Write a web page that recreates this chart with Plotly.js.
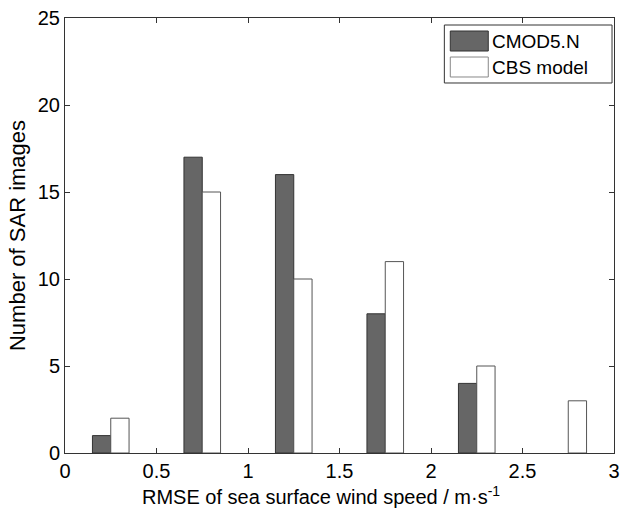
<!DOCTYPE html>
<html>
<head>
<meta charset="utf-8">
<script src="https://cdn.plot.ly/plotly-3.0.1.min.js"></script>
<style>html,body{margin:0;padding:0;background:#fff;}#chart{width:620px;height:512px;}</style>
</head>
<body>
<div id="chart"></div>
<script>
const binCenters = [0.25, 0.75, 1.25, 1.75, 2.25, 2.75];
const cmod5n = [1, 17, 16, 8, 4, 0];
const cbsModel = [2, 15, 10, 11, 5, 3];
const seriesNames = ['CMOD5.N', 'CBS model'];
const xTicks = [0, 0.5, 1, 1.5, 2, 2.5, 3];
const xTickText = ['0', '0.5', '1', '1.5', '2', '2.5', '3'];
const yTicks = [0, 5, 10, 15, 20, 25];
const xTitle = 'RMSE of sea surface wind speed / m·s<sup>-1</sup>';
const yTitle = 'Number of SAR images';

const FAM = 'Liberation Sans, Arial, sans-serif';
const tickFont = {family: FAM, size: 20, color: '#000'};
const titleFont = {family: FAM, size: 20, color: '#000'};
const legFont = {family: FAM, size: 19, color: '#000'};

const darkFill = '#666666', darkEdge = '#333333';
const lightFill = '#ffffff', lightEdge = '#555555';

const traces = [
  {type: 'bar', name: seriesNames[0], x: binCenters, y: cmod5n,
   marker: {color: darkFill, line: {color: darkEdge, width: cmod5n.map(v => v > 0 ? 1 : 0)}}},
  {type: 'bar', name: seriesNames[1], x: binCenters, y: cbsModel,
   marker: {color: lightFill, line: {color: lightEdge, width: cbsModel.map(v => v > 0 ? 1 : 0)}}}
];

const axisCommon = {
  showgrid: false, zeroline: false, showline: true, linecolor: '#333', linewidth: 1,
  mirror: 'allticks', ticks: 'inside', ticklen: 5, tickcolor: '#333', tickfont: tickFont,
  ticklabeloverflow: 'allow'
};

// custom legend (MATLAB-style wide swatches)
const shapes = [
  {type: 'rect', xref: 'paper', yref: 'paper', x0: 0.691, x1: 0.9964, y0: 0.8506, y1: 0.9839,
   line: {color: '#333', width: 1}, fillcolor: '#fff'},
  {type: 'rect', xref: 'paper', yref: 'paper', x0: 0.7018, x1: 0.771, y0: 0.9241, y1: 0.9701,
   line: {color: darkEdge, width: 1}, fillcolor: darkFill},
  {type: 'rect', xref: 'paper', yref: 'paper', x0: 0.7018, x1: 0.771, y0: 0.8644, y1: 0.9103,
   line: {color: '#888', width: 1}, fillcolor: lightFill}
];
const annotations = [
  {xref: 'paper', yref: 'paper', x: 0.774, y: 0.947, xanchor: 'left', yanchor: 'middle',
   text: seriesNames[0], showarrow: false, font: legFont},
  {xref: 'paper', yref: 'paper', x: 0.774, y: 0.887, xanchor: 'left', yanchor: 'middle',
   text: seriesNames[1], showarrow: false, font: legFont},
  {xref: 'paper', yref: 'paper', x: 0.467, y: -0.098, xanchor: 'center', yanchor: 'middle',
   text: xTitle, showarrow: false, font: titleFont}
];

const layout = {
  width: 620, height: 512,
  margin: {l: 65, r: 6, t: 18, b: 59},
  paper_bgcolor: '#fff', plot_bgcolor: '#fff',
  barmode: 'group', bargap: 0.6, bargroupgap: 0,
  showlegend: false,
  xaxis: Object.assign({}, axisCommon, {
    range: [0, 3], tickvals: xTicks, ticktext: xTickText
  }),
  yaxis: Object.assign({}, axisCommon, {
    range: [0, 25], tickvals: yTicks,
    title: {text: yTitle, font: {family: FAM, size: 22, color: '#000'}, standoff: 6}
  }),
  shapes: shapes,
  annotations: annotations
};

Plotly.newPlot('chart', traces, layout, {displayModeBar: false, staticPlot: true});
</script>
</body>
</html>
